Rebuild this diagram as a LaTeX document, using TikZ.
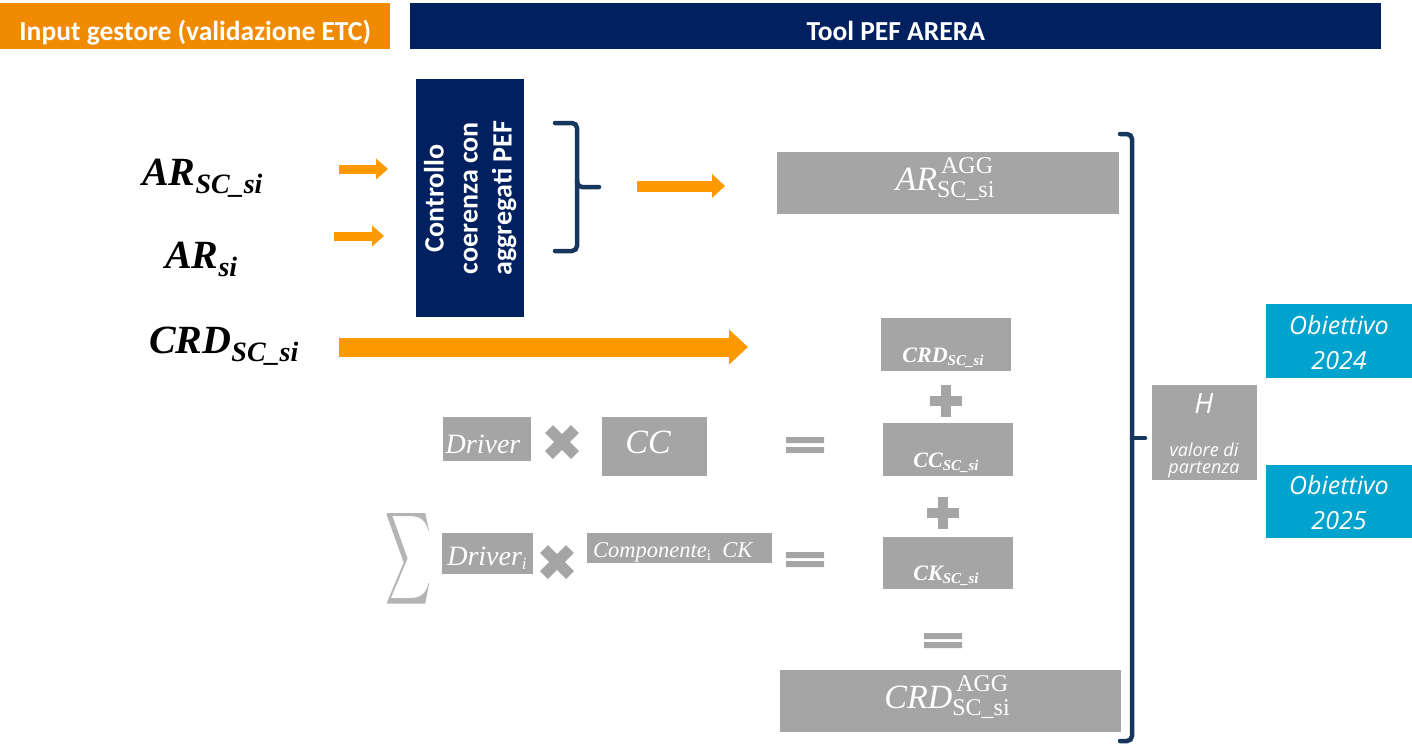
\documentclass[tikz,border=0pt]{standalone}
\usepackage{fontspec}
\setmainfont{Carlito}
\newfontfamily\mathserif{Liberation Serif}
\newfontfamily\opensans{Open Sans}
\usetikzlibrary{arrows.meta}

\definecolor{bannerorange}{HTML}{F08A00}
\definecolor{arroworange}{HTML}{FF9900}
\definecolor{navyblue}{HTML}{002060}
\definecolor{bracenavy}{HTML}{17365D}
\definecolor{boxgray}{HTML}{A5A5A5}
\definecolor{sumgray}{HTML}{B4B4B4}
\definecolor{goalblue}{HTML}{00A3CE}

% bold italic symbol with a lowered subscript, large and small variants
\newcommand\bigsym[2]{{\mathserif\bfseries\itshape\fontsize{40}{40}\selectfont #1\fontsize{28}{28}\selectfont\raisebox{-8pt}{#2}}}
\newcommand\boxsym[2]{{\mathserif\bfseries\itshape\fontsize{22}{22}\selectfont #1\fontsize{15}{15}\selectfont\raisebox{-3pt}{#2}}}
% aggregated quantity: italic symbol with stacked AGG / SC_si scripts
\newcommand\aggsym[1]{{\mathserif\fontsize{34}{34}\selectfont\itshape #1\upshape\fontsize{24}{24}\selectfont\rlap{\hspace{4pt}\raisebox{17pt}{AGG}}\raisebox{-7pt}{SC\_si}}}

\tikzset{
  banner/.style={anchor=north west, inner sep=0pt, text=white, text height=29pt, text depth=0pt, font=\bfseries\fontsize{27.5}{27.5}\selectfont},
  gbox/.style={anchor=north west, inner sep=0pt, fill=boxgray},
  goal/.style={anchor=north west, inner sep=0pt, fill=goalblue},
  wtext/.style={inner sep=0pt, text=white},
  fatarrow/.style={draw=arroworange, line width=#1},
  opsign/.style={draw=boxgray, line width=#1},
  bracket/.style={draw=bracenavy, line width=4.5pt, rounded corners=5pt, line cap=round},
}

\begin{document}
\begin{tikzpicture}[x=1pt,y=-1pt]
\useasboundingbox (0,0) rectangle (1412,745);

% header banners
\node[banner, fill=bannerorange, minimum width=390pt, minimum height=46pt] (hdrL) at (0,3) {Input gestore (validazione ETC)};
\node[banner, fill=navyblue, minimum width=971pt, minimum height=46pt] (hdrR) at (410,3) {Tool PEF ARERA};

% input quantities
\node[anchor=base west, inner sep=0pt] (arsc) at (142,185) {\bigsym{AR}{SC\_si}};
\node[anchor=base west, inner sep=0pt] (arsi) at (165,268) {\bigsym{AR}{si}};
\node[anchor=base west, inner sep=0pt] (crdin) at (149,353) {\bigsym{CRD}{SC\_si}};

% consistency check box
\node[anchor=north west, inner sep=0pt, fill=navyblue, minimum width=108pt, minimum height=238pt] (ctrl) at (416,79) {};
\node[rotate=90, text=white, align=center, font=\bfseries\fontsize{28}{34}\selectfont] (ctrlT) at (ctrl.center) {Controllo\\coerenza con\\aggregati PEF};

% arrows
\coordinate (a1s) at (339,169); \coordinate (a1e) at (388,169);
\coordinate (a2s) at (334,236); \coordinate (a2e) at (384,236);
\coordinate (a3s) at (339,347); \coordinate (a3e) at (748,347);
\coordinate (a4s) at (637,186); \coordinate (a4e) at (725,186);
\draw[fatarrow=9pt, -{Triangle[width=21pt,length=12pt,line width=0pt]}] (a1s) -- (a1e);
\draw[fatarrow=9pt, -{Triangle[width=21pt,length=12pt,line width=0pt]}] (a2s) -- (a2e);
\draw[fatarrow=11pt, -{Triangle[width=24pt,length=13pt,line width=0pt]}] (a4s) -- (a4e);
\draw[fatarrow=19pt, -{Triangle[width=35pt,length=19pt,line width=0pt]}] (a3s) -- (a3e);

% brace after the check
\draw[bracket] (555,123) -- (577,123) -- (577,187) -- (599,187);
\draw[bracket] (577,180) -- (577,251) -- (555,251);

% aggregated AR
\node[gbox, minimum width=342pt, minimum height=62pt] (aragg) at (777,152) {};
\node[wtext, anchor=base] (araggT) at (945,190) {\aggsym{AR}};

% CRD composition column
\node[gbox, minimum width=130pt, minimum height=53pt] (crd) at (881,318) {};
\node[wtext, anchor=base] (crdT) at (943,362) {\boxsym{CRD}{SC\_si}};
\node[gbox, minimum width=130pt, minimum height=53pt] (cc) at (883,423) {};
\node[wtext, anchor=base] (ccT) at (946,467) {\boxsym{CC}{SC\_si}};
\node[gbox, minimum width=130pt, minimum height=52pt] (ck) at (883,537) {};
\node[wtext, anchor=base] (ckT) at (946,580) {\boxsym{CK}{SC\_si}};

% plus signs
\draw[opsign=10pt] (930,401) -- (962,401) (946,385) -- (946,417);
\draw[opsign=10pt] (927,513) -- (959,513) (943,497) -- (943,529);

% equals signs
\fill[boxgray] (786,437) rectangle (824,443) (786,447) rectangle (824,453);
\fill[boxgray] (786,552) rectangle (824,558) (786,561) rectangle (824,567);
\fill[boxgray] (924,633) rectangle (962,639) (924,642) rectangle (962,648);

% aggregated CRD
\node[gbox, minimum width=341pt, minimum height=62pt] (crdagg) at (780,670) {};
\node[wtext, anchor=base] (crdaggT) at (947,708) {\aggsym{CRD}};

% Driver x CC
\node[gbox, minimum width=88pt, minimum height=44pt] (drv) at (443,417) {};
\node[wtext, anchor=base] (drvT) at (483,453) {\mathserif\itshape\fontsize{28}{28}\selectfont Driver};
\draw[opsign=11pt] (549,429) -- (575,455) (549,455) -- (575,429);
\node[gbox, minimum width=105pt, minimum height=59pt] (ccin) at (602,417) {};
\node[wtext, anchor=base] (ccinT) at (648,453) {\mathserif\itshape\fontsize{34}{34}\selectfont CC};

% sum of Driver_i x Componente_i CK
\node[inner sep=0pt, text=sumgray] (sum) at (408,559) {\resizebox{46pt}{68pt}{$\displaystyle\sum$}};
\node[gbox, minimum width=91pt, minimum height=41pt] (drvi) at (442,533) {};
\node[wtext, anchor=base] (drviT) at (487,565) {\mathserif\itshape\fontsize{28}{28}\selectfont Driver\fontsize{17}{17}\selectfont\raisebox{-4pt}{i}};
\draw[opsign=11pt] (544,549) -- (570,575) (544,575) -- (570,549);
\node[gbox, minimum width=185pt, minimum height=30pt] (comp) at (587,533) {};
\node[wtext, anchor=base west] (compT) at (593,557) {\mathserif\itshape\fontsize{22.5}{22}\selectfont Componente\upshape\fontsize{15}{15}\selectfont\raisebox{-3pt}{i}\itshape\fontsize{22.5}{22}\selectfont\ \ CK};

% right bracket collecting everything
\draw[bracket] (1120,134) -- (1132,134) -- (1132,741) -- (1120,741);
\draw[bracket] (1132,438) -- (1145,438);

% starting value and targets
\node[gbox, minimum width=105pt, minimum height=95pt] (hval) at (1152,385) {};
\node[wtext, anchor=base] (hT) at (1204,413) {\opensans\itshape\fontsize{28}{28}\selectfont H};
\node[wtext, align=center, font=\opensans\itshape\fontsize{18}{17}\selectfont] (hsub) at (1204,460) {valore di\\partenza};
\node[goal, minimum width=146pt, minimum height=74pt] (ob24) at (1266,304) {};
\node[wtext, align=center, font=\opensans\itshape\fontsize{25}{35}\selectfont] (ob24T) at (1339,343) {Obiettivo\\2024};
\node[goal, minimum width=146pt, minimum height=73pt] (ob25) at (1266,465) {};
\node[wtext, align=center, font=\opensans\itshape\fontsize{25}{35}\selectfont] (ob25T) at (1339,503) {Obiettivo\\2025};
\end{tikzpicture}
\end{document}
